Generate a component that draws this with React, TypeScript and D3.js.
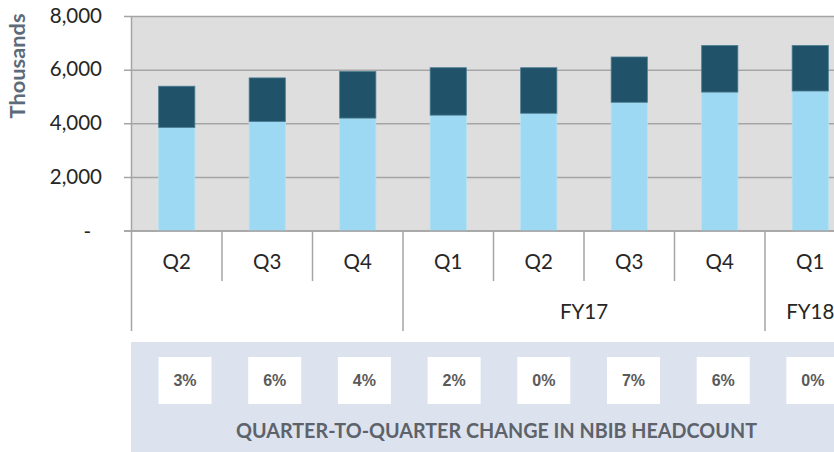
import React from "react";
import * as d3 from "d3";

const quarters = ["Q2", "Q3", "Q4", "Q1", "Q2", "Q3", "Q4", "Q1"];
const lowerValues = [3860, 4080, 4210, 4320, 4390, 4800, 5180, 5220];
const upperValues = [1540, 1630, 1740, 1770, 1700, 1690, 1740, 1700];
const fiscalYears = [
  { label: "", start: 0, span: 3 },
  { label: "FY17", start: 3, span: 4 },
  { label: "FY18", start: 7, span: 1 },
];
const changes = ["3%", "6%", "4%", "2%", "0%", "7%", "6%", "0%"];
const yTicks = [0, 2000, 4000, 6000, 8000];
const yAxisTitle = "Thousands";
const panelTitle = "QUARTER-TO-QUARTER CHANGE IN NBIB HEADCOUNT";

const W = 834;
const H = 452;
const plotLeft = 131.5;
const step = 90.5;
const plotTop = 16.5;
const plotBottom = 231;

const LIGHT = "#9dd9f2";
const DARK = "#20536a";
const GRID = "#a5a5a5";
const FONT = "Lato, 'Open Sans', sans-serif";

export default function App() {
  const idx = quarters.map((_, i) => i);
  const x = d3
    .scaleBand<number>()
    .domain(idx)
    .range([plotLeft, plotLeft + step * quarters.length])
    .paddingInner(0.6)
    .paddingOuter(0.3);
  const y = d3.scaleLinear().domain([0, 8000]).range([plotBottom, plotTop]);

  const stacked = d3
    .stack<number>()
    .keys(["lower", "upper"])
    .value((i, key) => (key === "lower" ? lowerValues[i] : upperValues[i]))(idx);

  const boxStep = 89.7;
  const boxStart = 185 - boxStep / 2;
  const bx = d3
    .scaleBand<number>()
    .domain(idx)
    .range([boxStart, boxStart + boxStep * changes.length])
    .paddingInner(1 - 53 / boxStep)
    .paddingOuter((1 - 53 / boxStep) / 2);

  const boundary = (i: number) => plotLeft + step * i;
  const yearStarts = new Set(fiscalYears.map((f) => f.start));

  return (
    <svg
      width={W}
      height={H}
      style={{ position: "absolute", left: 0, top: 0, background: "#fff" }}
      fontFamily={FONT}
    >
      {/* plot background */}
      <rect x={plotLeft} y={plotTop} width={W - plotLeft} height={plotBottom - plotTop} fill="#dedede" />
      {/* gridlines + ticks */}
      {yTicks.map((t) => (
        <line key={"g" + t} x1={124} x2={W} y1={y(t)} y2={y(t)} stroke={GRID} strokeWidth={1.5} />
      ))}
      {yTicks.map((t) => (
        <text
          key={"yl" + t}
          x={t === 0 ? 91 : 102}
          y={t === 0 ? y(t) + 3 : y(t) + 1}
          textAnchor="end"
          dominantBaseline="middle"
          fontSize={20.5}
          fill="#262626"
        >
          {t === 0 ? "-" : d3.format(",")(t)}
        </text>
      ))}
      <text
        transform="translate(25,66) rotate(-90)"
        textAnchor="middle"
        fontSize={20}
        fontWeight="bold"
        fill="#5d6a79"
        textLength={105}
        lengthAdjust="spacingAndGlyphs"
      >
        {yAxisTitle}
      </text>
      {/* bars */}
      {stacked.map((series, si) =>
        series.map((d, i) => (
          <rect
            key={si + "-" + i}
            x={x(i)}
            width={x.bandwidth()}
            y={y(d[1])}
            height={y(d[0]) - y(d[1])}
            fill={si === 0 ? LIGHT : DARK}
            stroke={si === 0 ? "#b5e2f4" : "#4d7d92"}
            strokeWidth={0.8}
          />
        ))
      )}
      {/* left axis line */}
      <line x1={plotLeft} x2={plotLeft} y1={plotTop} y2={plotBottom} stroke={GRID} strokeWidth={1.5} />
      {/* category separators */}
      {d3.range(0, quarters.length + 1).map((i) => (
        <line
          key={"sep" + i}
          x1={boundary(i)}
          x2={boundary(i)}
          y1={plotBottom}
          y2={yearStarts.has(i) ? 331 : 281}
          stroke={GRID}
          strokeWidth={1.5}
        />
      ))}
      <line x1={124} x2={W} y1={plotBottom} y2={plotBottom} stroke={GRID} strokeWidth={1.5} />
      {quarters.map((q, i) => (
        <text
          key={"q" + i}
          x={(x(i) as number) + x.bandwidth() / 2}
          y={264}
          textAnchor="middle"
          dominantBaseline="middle"
          fontSize={20.5}
          fill="#262626"
        >
          {q}
        </text>
      ))}
      {fiscalYears.map((f) => (
        <text
          key={"fy" + f.start}
          x={boundary(f.start) + (step * f.span) / 2}
          y={314}
          textAnchor="middle"
          dominantBaseline="middle"
          fontSize={20.5}
          fill="#262626"
        >
          {f.label}
        </text>
      ))}
      {/* bottom panel */}
      <rect x={131} y={342} width={W - 131} height={H - 342} fill="#dce3ee" />
      {changes.map((c, i) => (
        <g key={"c" + i}>
          <rect x={bx(i)} y={357} width={bx.bandwidth()} height={47} fill="#ffffff" />
          <text
            x={(bx(i) as number) + bx.bandwidth() / 2}
            y={382}
            textAnchor="middle"
            dominantBaseline="middle"
            fontSize={16}
            fontWeight="bold"
            fill="#5a5a5a"
            fontFamily="'Liberation Sans', Arial, sans-serif"
          >
            {c}
          </text>
        </g>
      ))}
      <text
        x={496.5}
        y={438}
        textAnchor="middle"
        fontSize={20.5}
        fontWeight="bold"
        fill="#5d626b"
        textLength={521}
        lengthAdjust="spacingAndGlyphs"
      >
        {panelTitle}
      </text>
    </svg>
  );
}
